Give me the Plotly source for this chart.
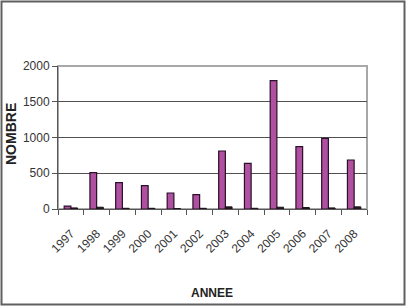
import plotly.graph_objects as go

years = ["1997", "1998", "1999", "2000", "2001", "2002", "2003", "2004", "2005", "2006", "2007", "2008"]
serie1 = [40, 510, 368, 326, 224, 200, 811, 639, 1795, 871, 989, 685]
serie2 = [15, 25, 10, 10, 5, 10, 30, 10, 25, 20, 15, 30]
y_ticks = [0, 500, 1000, 1500, 2000]

W, H = 406, 306
ml, mr, mt, mb = 58, 39, 66, 97
pw, ph = W - ml - mr, H - mt - mb

def px(x):
    return (x - ml) / pw

def py(y):
    return (H - mb - y) / ph

fig = go.Figure()
fig.add_trace(go.Bar(x=years, y=serie1, marker=dict(color="#B050A0", line=dict(color="#2A1028", width=1.2)), showlegend=False))
fig.add_trace(go.Bar(x=years, y=serie2, marker=dict(color="#2A1A28", line=dict(color="#1A1018", width=1)), showlegend=False))

fig.update_layout(
    width=W, height=H,
    margin=dict(l=ml, r=mr, t=mt, b=mb),
    paper_bgcolor="white", plot_bgcolor="white",
    barmode="group", bargap=0.48, bargroupgap=0,
    font=dict(family="Liberation Sans, Arial, sans-serif", size=12, color="#333333"),
    xaxis=dict(type="category", tickson="boundaries", ticks="outside", ticklen=5, tickcolor="#555555",
               tickangle=-45, showline=True, linecolor="#555555", linewidth=1, ticklabelstandoff=12,
               tickfont=dict(size=12, color="#333333"), showgrid=False),
    yaxis=dict(range=[0, 2000], tickvals=y_ticks, ticks="outside", ticklen=5, tickcolor="#555555",
               showline=True, linecolor="#555555", linewidth=1, showgrid=True, gridcolor="#505050",
               gridwidth=1, zeroline=False, tickfont=dict(size=12, color="#333333")),
    shapes=[
        dict(type="rect", xref="paper", yref="paper", x0=0, x1=1, y0=0, y1=1,
             line=dict(color="#A8A8A8", width=2), layer="below"),
        dict(type="rect", xref="paper", yref="paper", x0=px(1.5), x1=px(404.5), y0=py(304.5), y1=py(1.5),
             line=dict(color="#606060", width=2), layer="below"),
    ],
    annotations=[
        dict(text="<b>NOMBRE</b>", xref="paper", yref="paper", x=px(11), y=py(134), textangle=-90,
             showarrow=False, font=dict(size=14, color="#222222"), xanchor="center", yanchor="middle"),
        dict(text="<b>ANNEE</b>", xref="paper", yref="paper", x=px(212), y=py(293),
             showarrow=False, font=dict(family="Liberation Sans Narrow, Liberation Sans, Arial", size=12, color="#222222"),
             xanchor="center", yanchor="middle"),
    ],
)

fig.write_html("out.html")
